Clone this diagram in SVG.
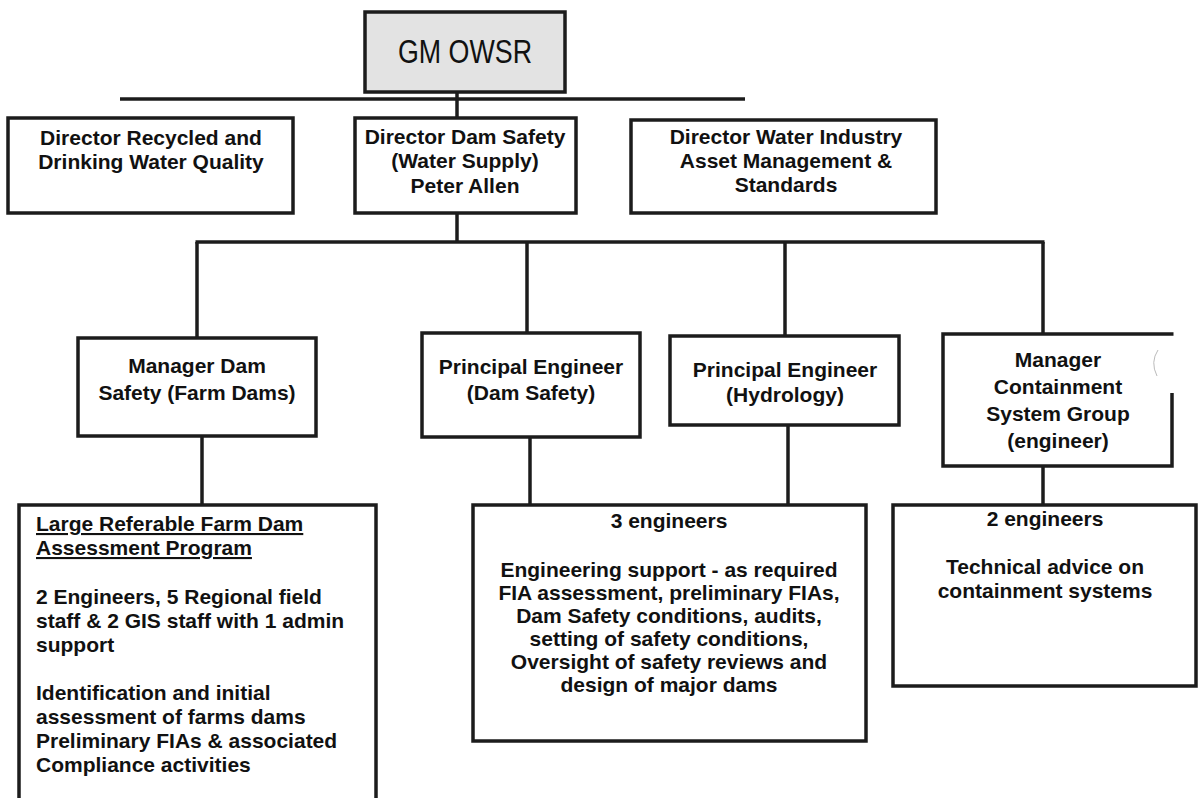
<svg xmlns="http://www.w3.org/2000/svg" width="1203" height="798" viewBox="0 0 1203 798">
<style>
.box{fill:#fff;stroke:#1c1c1c;stroke-width:3.5}
.gm{fill:#e3e3e3;stroke:#1c1c1c;stroke-width:3.5}
.ln{stroke:#1c1c1c;stroke-width:3.5;fill:none}
.t{font-family:"Liberation Sans",Arial,Helvetica,sans-serif;font-weight:bold;font-size:21px;fill:#111}
.c{text-anchor:middle}
.u{text-decoration:underline}
</style>
<rect width="1203" height="798" fill="#fff"/>
<g id="connectors">
<line class="ln" x1="120" y1="99" x2="745" y2="99"/>
<line class="ln" x1="457" y1="92" x2="457" y2="118"/>
<line class="ln" x1="457" y1="213" x2="457" y2="242"/>
<line class="ln" x1="195.5" y1="242" x2="1044.5" y2="242"/>
<line class="ln" x1="197" y1="242" x2="197" y2="338"/>
<line class="ln" x1="527" y1="242" x2="527" y2="333"/>
<line class="ln" x1="785" y1="242" x2="785" y2="336"/>
<line class="ln" x1="1043" y1="242" x2="1043" y2="334"/>
<line class="ln" x1="202" y1="436" x2="202" y2="505"/>
<line class="ln" x1="530" y1="437" x2="530" y2="505"/>
<line class="ln" x1="788" y1="425" x2="788" y2="505"/>
<line class="ln" x1="1043" y1="466" x2="1043" y2="505"/>
</g>
<g id="gm">
<rect class="gm" x="365" y="12" width="200" height="80"/>
<text x="465" y="63" text-anchor="middle" font-family="Liberation Sans,Arial,sans-serif" font-size="33" fill="#111" textLength="134" lengthAdjust="spacingAndGlyphs">GM OWSR</text>
</g>
<g id="dir-recycled">
<rect class="box" x="8" y="118" width="285" height="95"/>
<text class="t c" x="151" y="145">Director Recycled and</text>
<text class="t c" x="151" y="169">Drinking Water Quality</text>
</g>
<g id="dir-dam-safety">
<rect class="box" x="355" y="118" width="221" height="95"/>
<text class="t c" x="465" y="144">Director Dam Safety</text>
<text class="t c" x="465" y="168">(Water Supply)</text>
<text class="t c" x="465" y="193">Peter Allen</text>
</g>
<g id="dir-water-industry">
<rect class="box" x="631" y="120" width="305" height="93"/>
<text class="t c" x="786" y="144">Director Water Industry</text>
<text class="t c" x="786" y="168">Asset Management &amp;</text>
<text class="t c" x="786" y="192">Standards</text>
</g>
<g id="mgr-farm-dams">
<rect class="box" x="78" y="338" width="238" height="98"/>
<text class="t c" x="197" y="373">Manager Dam</text>
<text class="t c" x="197" y="400">Safety (Farm Dams)</text>
</g>
<g id="pe-dam-safety">
<rect class="box" x="422" y="333" width="218" height="104"/>
<text class="t c" x="531" y="374">Principal Engineer</text>
<text class="t c" x="531" y="400">(Dam Safety)</text>
</g>
<g id="pe-hydrology">
<rect class="box" x="670" y="336" width="229" height="89"/>
<text class="t c" x="785" y="377">Principal Engineer</text>
<text class="t c" x="785" y="402">(Hydrology)</text>
</g>
<g id="mgr-containment">
<path class="ln" d="M1172 393 V466 H943 V334 H1173.5"/>
<path d="M1158 350 Q1150 362 1157 376" fill="none" stroke="#bbb" stroke-width="1"/>
<text class="t c" x="1058" y="367">Manager</text>
<text class="t c" x="1058" y="394">Containment</text>
<text class="t c" x="1058" y="421">System Group</text>
<text class="t c" x="1058" y="448">(engineer)</text>
</g>
<g id="farm-dam-program">
<rect class="box" x="19" y="505" width="357" height="310"/>
<text class="t u" x="36" y="531">Large Referable Farm Dam</text>
<text class="t u" x="36" y="555">Assessment Program</text>
<text class="t" x="36" y="604">2 Engineers, 5 Regional field</text>
<text class="t" x="36" y="628">staff &amp; 2 GIS staff with 1 admin</text>
<text class="t" x="36" y="652">support</text>
<text class="t" x="36" y="700">Identification and initial</text>
<text class="t" x="36" y="724">assessment of farms dams</text>
<text class="t" x="36" y="748">Preliminary FIAs &amp; associated</text>
<text class="t" x="36" y="772">Compliance activities</text>
</g>
<g id="dam-safety-engineers">
<rect class="box" x="473" y="505" width="393" height="236"/>
<text class="t c" x="669" y="528">3 engineers</text>
<text class="t c" x="669" y="577">Engineering support - as required</text>
<text class="t c" x="669" y="600">FIA assessment, preliminary FIAs,</text>
<text class="t c" x="669" y="623">Dam Safety conditions, audits,</text>
<text class="t c" x="669" y="646">setting of safety conditions,</text>
<text class="t c" x="669" y="669">Oversight of safety reviews and</text>
<text class="t c" x="669" y="692">design of major dams</text>
</g>
<g id="containment-engineers">
<rect class="box" x="893" y="505" width="303" height="181"/>
<text class="t c" x="1045" y="526">2 engineers</text>
<text class="t c" x="1045" y="574">Technical advice on</text>
<text class="t c" x="1045" y="598">containment systems</text>
</g>
</svg>
